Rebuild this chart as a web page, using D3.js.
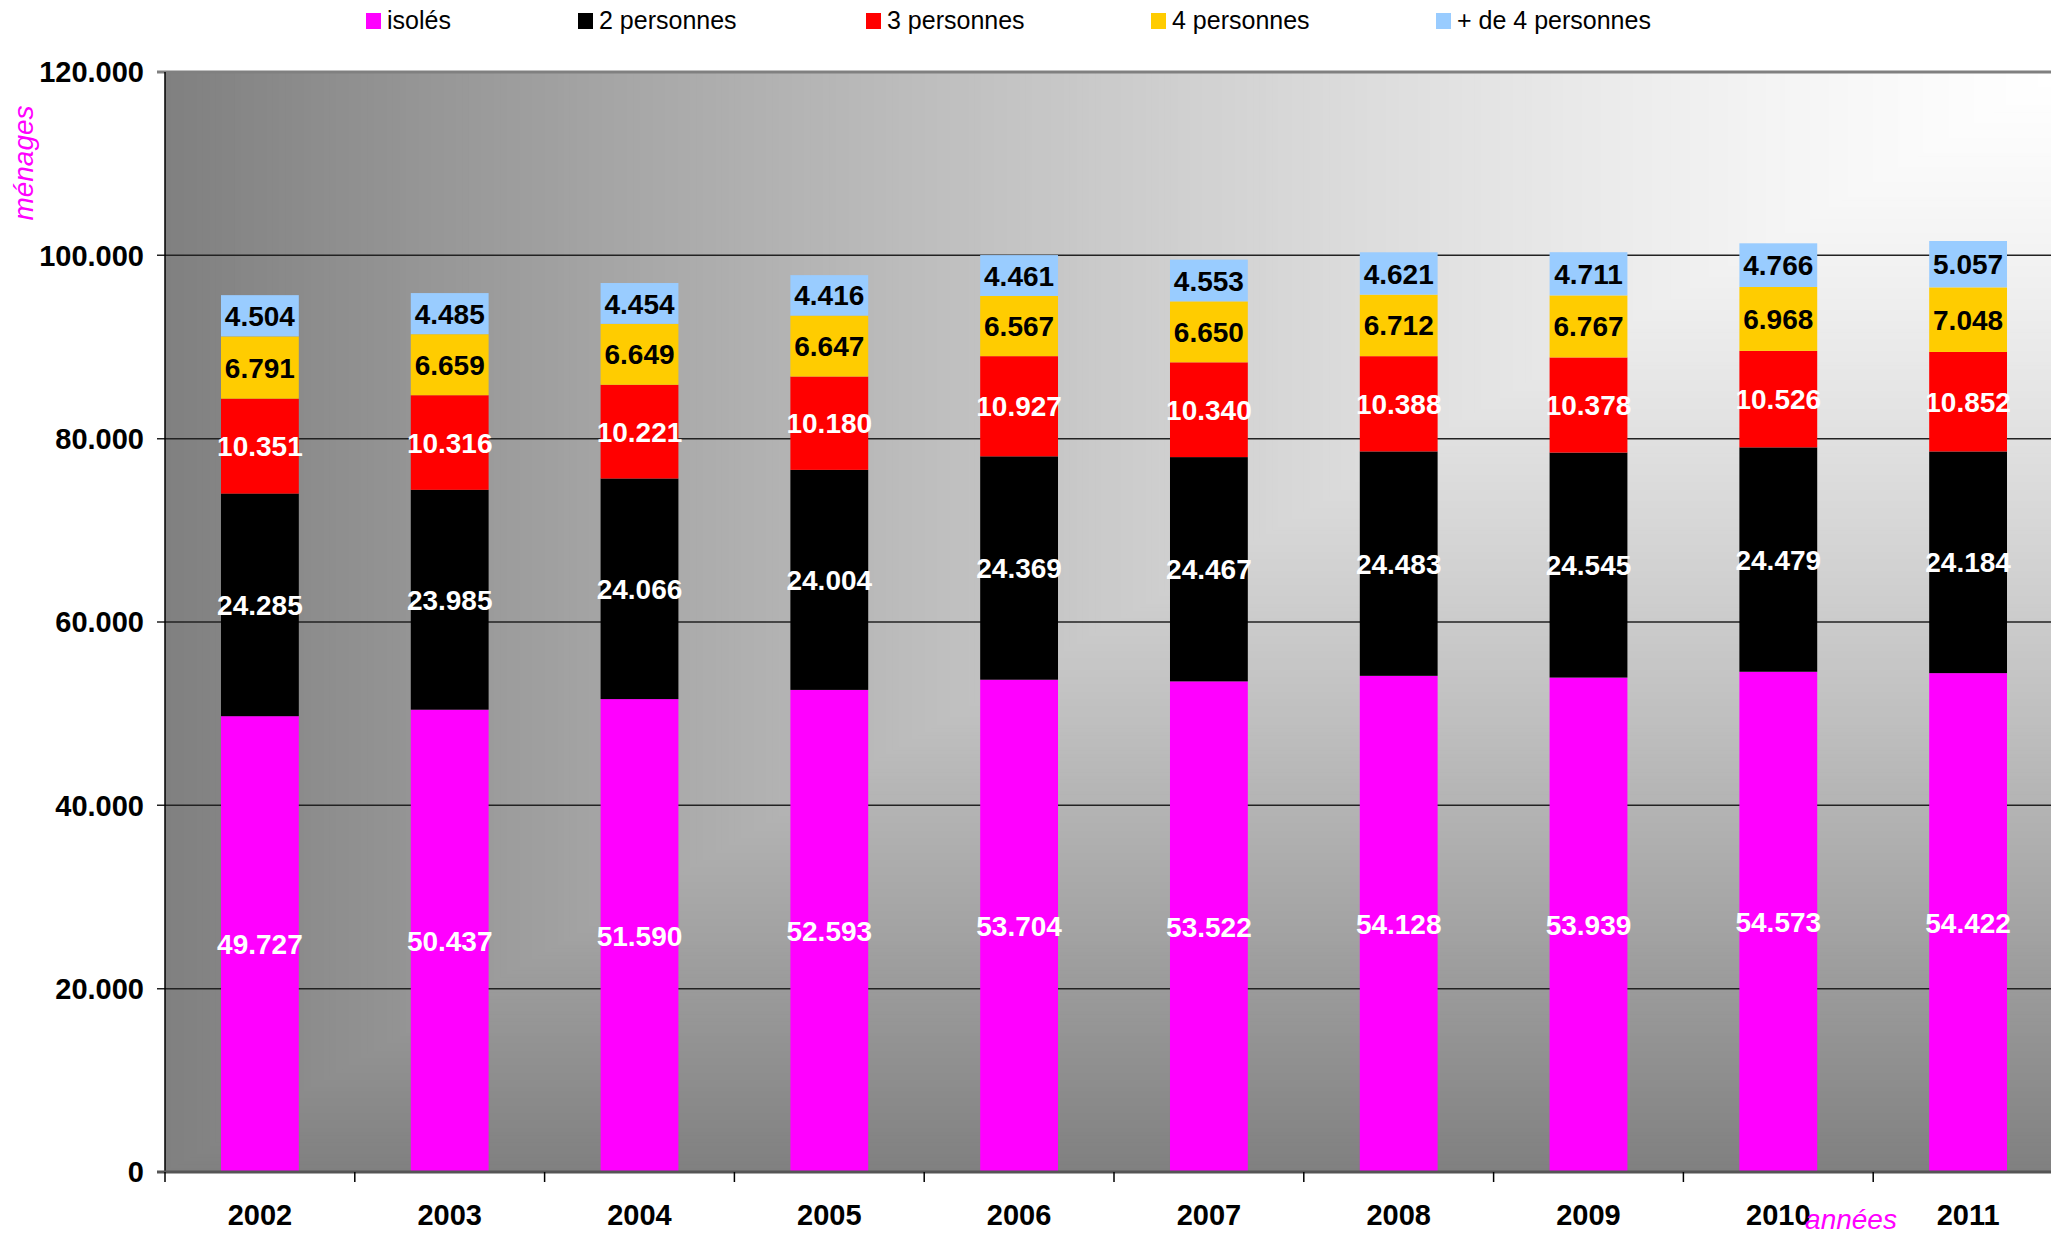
<!DOCTYPE html>
<html>
<head>
<meta charset="utf-8">
<script src="https://cdn.jsdelivr.net/npm/d3@7"></script>
<style>
  body { margin: 0; background: #fff; }
  text { font-family: "Liberation Sans", Arial, sans-serif; }
</style>
</head>
<body>
<div id="chart"></div>
<script>
// data
var years = ["2002", "2003", "2004", "2005", "2006", "2007", "2008", "2009", "2010", "2011"];
var isoles = [49727, 50437, 51590, 52593, 53704, 53522, 54128, 53939, 54573, 54422];
var deuxPersonnes = [24285, 23985, 24066, 24004, 24369, 24467, 24483, 24545, 24479, 24184];
var troisPersonnes = [10351, 10316, 10221, 10180, 10927, 10340, 10388, 10378, 10526, 10852];
var quatrePersonnes = [6791, 6659, 6649, 6647, 6567, 6650, 6712, 6767, 6968, 7048];
var plusDeQuatre = [4504, 4485, 4454, 4416, 4461, 4553, 4621, 4711, 4766, 5057];
var seriesNames = ["isolés", "2 personnes", "3 personnes", "4 personnes", "+ de 4 personnes"];
var yTicks = [0, 20000, 40000, 60000, 80000, 100000, 120000];

var seriesColors = ["#ff00ff", "#000000", "#ff0000", "#ffcc00", "#99ccff"];
var labelColors = ["#fff", "#fff", "#fff", "#000", "#000"];
var legendX = [366, 578, 866, 1151, 1436];

var width = 2051;
var height = 1237;
var plotLeft = 165, plotTop = 72, plotBottom = 1172;
var plotRight = plotLeft + 189.8 * years.length;

var table = years.map(function(y, i) {
  return {
    year: y,
    "isolés": isoles[i],
    "2 personnes": deuxPersonnes[i],
    "3 personnes": troisPersonnes[i],
    "4 personnes": quatrePersonnes[i],
    "+ de 4 personnes": plusDeQuatre[i]
  };
});

var fr = d3.formatLocale({decimal: ",", thousands: ".", grouping: [3], currency: ["", " €"]});
var fmt = fr.format(",d");

var svg = d3.select("#chart").append("svg")
    .attr("width", width)
    .attr("height", height);

var x = d3.scaleBand()
    .domain(years)
    .range([plotLeft, plotRight])
    .paddingInner(0.59)
    .paddingOuter(0.295);

var y = d3.scaleLinear()
    .domain([0, 120000])
    .range([plotBottom, plotTop]);

// background: gradient from the top right corner
var W = plotRight - plotLeft, H = plotBottom - plotTop;
var steps = d3.range(300, 0, -1).map(function(k) { return k / 300; });
svg.append("g").selectAll("rect")
    .data(steps)
    .enter()
    .append("rect")
    .attr("x", function(t) { return plotRight - t * W; })
    .attr("y", plotTop)
    .attr("width", function(t) { return t * W; })
    .attr("height", function(t) { return t * H; })
    .attr("fill", function(t) {
      var v = Math.round(255 - 127 * Math.pow(t, 1.3));
      return d3.rgb(v, v, v);
    });

// gridlines
svg.append("g").selectAll("line")
    .data(yTicks.filter(function(d) { return d > 0; }))
    .enter()
    .append("line")
    .attr("x1", plotLeft - 8)
    .attr("x2", plotRight)
    .attr("y1", function(d) { return y(d); })
    .attr("y2", function(d) { return y(d); })
    .attr("stroke", function(d) { return d === 120000 ? "#808080" : "#222"; })
    .attr("stroke-width", function(d) { return d === 120000 ? 3 : 1.5; });

// stacked bars
var stack = d3.stack().keys(seriesNames);
var layers = stack(table);

var groups = svg.append("g").selectAll("g")
    .data(layers)
    .enter()
    .append("g")
    .attr("fill", function(d, i) { return seriesColors[i]; });

groups.selectAll("rect")
    .data(function(d) { return d; })
    .enter()
    .append("rect")
    .attr("x", function(d) { return x(d.data.year); })
    .attr("y", function(d) { return y(d[1]); })
    .attr("width", x.bandwidth())
    .attr("height", function(d) { return y(d[0]) - y(d[1]); });

// value labels
groups.each(function(layer, i) {
  d3.select(this).selectAll("text")
      .data(layer)
      .enter()
      .append("text")
      .attr("x", function(d) { return x(d.data.year) + x.bandwidth() / 2; })
      .attr("y", function(d) { return y((d[0] + d[1]) / 2); })
      .attr("dy", "0.36em")
      .attr("text-anchor", "middle")
      .attr("font-size", 28)
      .attr("font-weight", "bold")
      .attr("fill", labelColors[i])
      .text(function(d) { return fmt(d[1] - d[0]); });
});

// y axis
svg.append("line")
    .attr("x1", plotLeft).attr("x2", plotLeft)
    .attr("y1", plotTop).attr("y2", plotBottom)
    .attr("stroke", "#000").attr("stroke-width", 1.5);

svg.append("line")
    .attr("x1", plotLeft - 8).attr("x2", plotRight)
    .attr("y1", plotBottom).attr("y2", plotBottom)
    .attr("stroke", "#555").attr("stroke-width", 3);

svg.append("g").selectAll("text")
    .data(yTicks)
    .enter()
    .append("text")
    .attr("x", 144)
    .attr("y", function(d) { return y(d); })
    .attr("dy", "0.36em")
    .attr("text-anchor", "end")
    .attr("font-size", 29)
    .attr("font-weight", "bold")
    .text(function(d) { return fmt(d); });

// x axis ticks between categories
var bounds = years.map(function(d) { return x(d) - x.step() * x.paddingOuter(); });
svg.append("g").selectAll("line")
    .data(bounds)
    .enter()
    .append("line")
    .attr("x1", function(d) { return d; })
    .attr("x2", function(d) { return d; })
    .attr("y1", plotBottom)
    .attr("y2", plotBottom + 10)
    .attr("stroke", "#000")
    .attr("stroke-width", 1.5);

svg.append("g").selectAll("text")
    .data(years)
    .enter()
    .append("text")
    .attr("x", function(d) { return x(d) + x.bandwidth() / 2; })
    .attr("y", 1225)
    .attr("text-anchor", "middle")
    .attr("font-size", 29)
    .attr("font-weight", "bold")
    .text(function(d) { return d; });

// axis titles
svg.append("text")
    .attr("transform", "translate(33,163) rotate(-90)")
    .attr("text-anchor", "middle")
    .attr("font-size", 28)
    .attr("font-style", "italic")
    .attr("fill", "#ff00ff")
    .text("ménages");

svg.append("text")
    .attr("x", 1851)
    .attr("y", 1229)
    .attr("text-anchor", "middle")
    .attr("font-size", 28)
    .attr("font-style", "italic")
    .attr("fill", "#ff00ff")
    .text("années");

// legend
var legend = svg.append("g").selectAll("g")
    .data(seriesNames)
    .enter()
    .append("g")
    .attr("transform", function(d, i) { return "translate(" + legendX[i] + ",0)"; });

legend.append("rect")
    .attr("x", 0).attr("y", 13)
    .attr("width", 15).attr("height", 16)
    .attr("fill", function(d, i) { return seriesColors[i]; });

legend.append("text")
    .attr("x", 21)
    .attr("y", 29)
    .attr("font-size", 25)
    .text(function(d) { return d; });
</script>
</body>
</html>
